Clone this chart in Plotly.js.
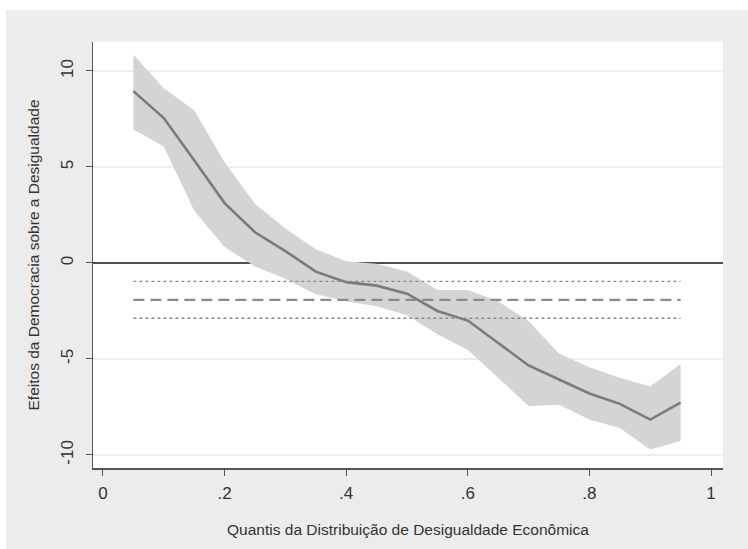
<!DOCTYPE html>
<html>
<head>
<meta charset="utf-8">
<script src="https://cdn.plot.ly/plotly-3.0.1.min.js"></script>
<style>
  html, body { margin: 0; padding: 0; background: #ffffff; width: 748px; height: 549px; overflow: hidden; }
  #chart { position: absolute; left: 6px; top: 10px; width: 742px; height: 539px; }
</style>
</head>
<body>
<div id="chart"></div>
<script>
// Quantiles of economic inequality distribution
const quantis = [0.05, 0.10, 0.15, 0.20, 0.25, 0.30, 0.35, 0.40, 0.45, 0.50,
                 0.55, 0.60, 0.65, 0.70, 0.75, 0.80, 0.85, 0.90, 0.95];
// Quantile-regression effect of democracy
const efeito = [8.95, 7.55, 5.35, 3.12, 1.6, 0.62, -0.45, -1.0, -1.18, -1.6,
                -2.5, -3.0, -4.17, -5.34, -6.07, -6.8, -7.34, -8.16, -7.28];
// 95% confidence band
const limSup = [10.85, 9.1, 7.95, 5.25, 3.08, 1.8, 0.72, 0.09, -0.04, -0.45,
                -1.41, -1.41, -2.0, -3.02, -4.71, -5.43, -5.98, -6.44, -5.26];
const limInf = [6.95, 6.07, 2.72, 0.83, -0.18, -0.82, -1.63, -1.99, -2.26, -2.72,
                -3.71, -4.53, -5.98, -7.45, -7.39, -8.15, -8.6, -9.72, -9.27];
// OLS estimate and its confidence interval (horizontal reference lines)
const xRef = [0.05, 0.95];
const ols = -1.92;
const olsSup = -0.96;
const olsInf = -2.88;
// reference line at zero
const zeroRef = 0;

const xTicks = [0, 0.2, 0.4, 0.6, 0.8, 1];
const xTickText = ['0', '.2', '.4', '.6', '.8', '1'];
const yTicks = [-10, -5, 0, 5, 10];
const yTickText = ['-10', '-5', '0', '5', '10'];

const xRange = [-0.0164, 1.0197];
const yRange = [-10.68, 11.51];

const zeroLine = {
  x: xRange, y: xRange.map(() => zeroRef), type: 'scatter', mode: 'lines',
  line: {color: '#1a1a1a', width: 1.6}, hoverinfo: 'skip', showlegend: false
};
const band = {
  x: quantis.concat(quantis.slice().reverse()),
  y: limSup.concat(limInf.slice().reverse()),
  type: 'scatter', mode: 'lines', fill: 'toself',
  fillcolor: '#d4d4d6', line: {width: 0, color: '#d4d4d6'},
  hoverinfo: 'skip', showlegend: false
};
const linha = {
  x: quantis, y: efeito, type: 'scatter', mode: 'lines',
  line: {color: '#7b7b7b', width: 2.6}, showlegend: false
};
const olsLine = {
  x: xRef, y: xRef.map(() => ols), type: 'scatter', mode: 'lines',
  line: {color: '#8a8a8a', width: 2.4, dash: '11px,6px'}, showlegend: false
};
const olsUp = {
  x: xRef, y: xRef.map(() => olsSup), type: 'scatter', mode: 'lines',
  line: {color: '#8a8a8a', width: 1.4, dash: 'dot'}, showlegend: false
};
const olsLo = {
  x: xRef, y: xRef.map(() => olsInf), type: 'scatter', mode: 'lines',
  line: {color: '#8a8a8a', width: 1.4, dash: 'dot'}, showlegend: false
};

const fam = '"Liberation Sans", Arial, sans-serif';
const txtColor = '#333333';

const layout = {
  width: 742, height: 539,
  paper_bgcolor: '#ececec', plot_bgcolor: '#ffffff',
  margin: {l: 87, r: 25, t: 32, b: 81},
  showlegend: false,
  font: {family: fam, color: txtColor},
  xaxis: {
    range: xRange,
    tickvals: xTicks, ticktext: xTickText,
    tickfont: {size: 17, family: fam, color: txtColor},
    ticks: 'outside', ticklen: 6, tickcolor: '#555', tickwidth: 1,
    showline: true, linecolor: '#555', linewidth: 1.5,
    showgrid: false, zeroline: false,
    ticklabelstandoff: 3,
    title: {text: 'Quantis da Distribuição de Desigualdade Econômica',
            font: {size: 15.5, family: fam, color: txtColor}, standoff: 22}
  },
  yaxis: {
    range: yRange,
    tickvals: yTicks, ticktext: yTickText,
    tickangle: -90,
    tickfont: {size: 17, family: fam, color: txtColor},
    ticks: 'outside', ticklen: 6, tickcolor: '#555', tickwidth: 1,
    showline: true, linecolor: '#555', linewidth: 1.5,
    showgrid: true, gridcolor: '#ececec', gridwidth: 1.5,
    zeroline: false,
    ticklabelstandoff: 6,
    title: {text: 'Efeitos da Democracia sobre a Desigualdade',
            font: {size: 15.5, family: fam, color: txtColor}, standoff: 14}
  }
};

Plotly.newPlot('chart', [zeroLine, band, linha, olsLine, olsUp, olsLo], layout, {displayModeBar: false, staticPlot: true});
</script>
</body>
</html>
